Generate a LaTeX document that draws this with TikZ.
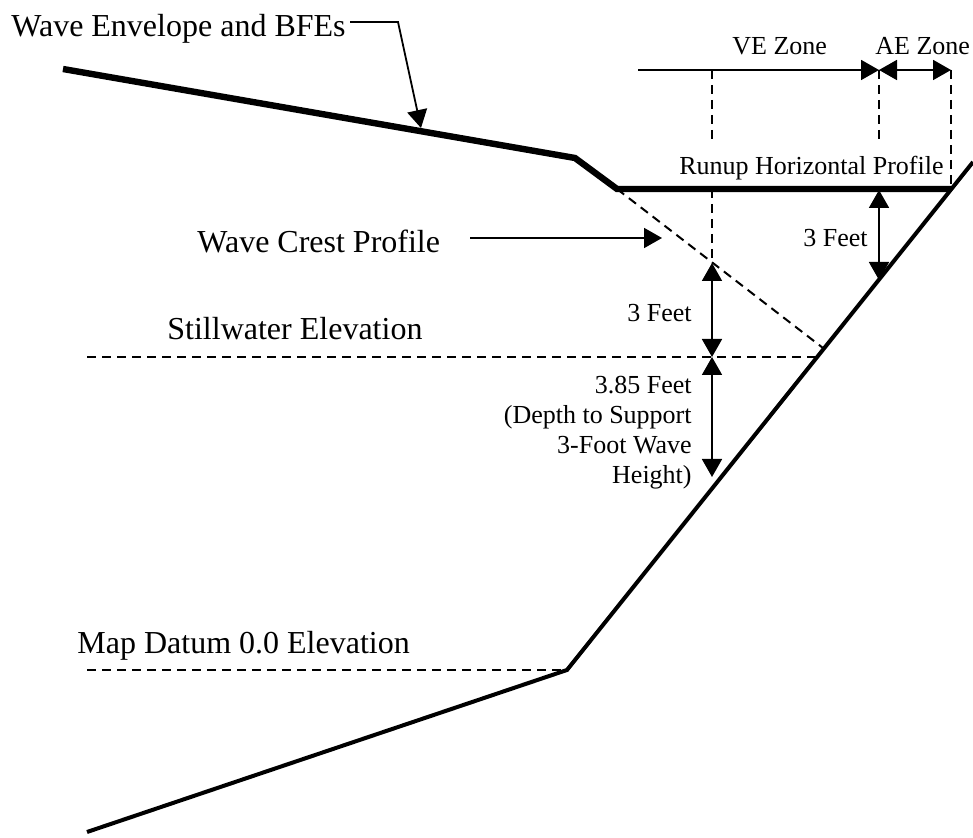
\documentclass[tikz,border=0pt]{standalone}
\usepackage{fontspec}
\setmainfont{Liberation Serif}
\usetikzlibrary{arrows.meta,calc,positioning}
\tikzstyle{biglabel}=[inner sep=0pt, font=\fontsize{16}{19}\selectfont]
\tikzstyle{smalllabel}=[inner sep=0pt, font=\fontsize{13}{15}\selectfont]
\tikzstyle{envelope}=[line width=3.2pt]
\tikzstyle{ground}=[line width=2pt]
\tikzstyle{guide}=[line width=1pt, dash pattern=on 4.5pt off 3pt]
\tikzstyle{dim}=[line width=0.9pt]

\begin{document}
\begin{tikzpicture}[x=0.5pt, y=-0.5pt, >={Triangle[length=9pt,width=10pt]}]
    \useasboundingbox (0,0) rectangle (973,838);

    % profile points
    \coordinate (envstart) at (63,69);
    \coordinate (envbend) at (575,158);
    \coordinate (runupL) at (617,189);
    \coordinate (runupR) at (951,189);
    \coordinate (shoretop) at (973,162);
    \coordinate (toe) at (567,670);
    \coordinate (seaend) at (87,832);
    \coordinate (swL) at (87,357);
    \coordinate (swR) at (820,357);
    \coordinate (mdL) at (87,670);
    \coordinate (crestend) at (823,348);
    \coordinate (crestx) at (712,263);

    % labels
    \node[biglabel, anchor=base west] (title) at (11,37) {Wave Envelope and BFEs};
    \node[biglabel, anchor=base west] (crest) at (197,253) {Wave Crest Profile};
    \node[biglabel, anchor=base west] (still) at (167,340) {Stillwater Elevation};
    \node[biglabel, anchor=base west] (datum) at (77,653) {Map Datum 0.0 Elevation};
    \node[smalllabel, anchor=base west] (vezone) at (732,55) {VE Zone};
    \node[smalllabel, anchor=base west] (aezone) at (875,55) {AE Zone};
    \node[smalllabel, anchor=base east] (runup) at (944,175) {Runup Horizontal Profile};
    \node[smalllabel, anchor=base east] (threeR) at (868,247) {3 Feet};
    \node[smalllabel, anchor=base east] (threeM) at (692,322) {3 Feet};
    \node[smalllabel, anchor=east, align=right] (depth) at (692,433)
        {3.85 Feet\\(Depth to Support\\3-Foot Wave\\Height)};

    % ground and envelope
    \draw[envelope] (envstart) -- (envbend) -- (runupL) -- (runupR);
    \draw[ground] (seaend) -- (toe) -- (shoretop);
    \draw[guide] (swL) -- (swR);
    \draw[guide] (mdL) -- (toe);
    \draw[guide] (runupL) -- (crestend);

    % zones
    \coordinate (zonestart) at (638,70);
    \coordinate (vetop) at (712,70);
    \coordinate (aetop) at (879,70);
    \coordinate (endtop) at (951,70);
    \draw[dim, ->] (zonestart) -- (aetop);
    \draw[dim, <->] (aetop) -- (endtop);
    \draw[guide] (vetop) -- (712,143);
    \draw[guide] (aetop) -- (879,143);
    \draw[guide] (endtop) -- (runupR);
    \draw[guide] (712,189) -- (crestx);

    % leaders
    \coordinate (leadA) at (350,22);
    \coordinate (leadB) at (398,22);
    \coordinate (leadtip) at (421,128);
    \draw[dim, ->] (leadA) -- (leadB) -- (leadtip);
    \coordinate (crestA) at (470,238);
    \coordinate (crestB) at (662,238);
    \draw[dim, ->] (crestA) -- (crestB);

    % heights
    \coordinate (rtop) at (879,190);
    \coordinate (rbot) at (879,280);
    \coordinate (swM) at (712,357);
    \coordinate (dbot) at (712,477);
    \draw[dim, <->] (rtop) -- (rbot);
    \draw[dim, <->] (crestx) -- (swM);
    \draw[dim, <->] (swM) -- (dbot);
\end{tikzpicture}
\end{document}
